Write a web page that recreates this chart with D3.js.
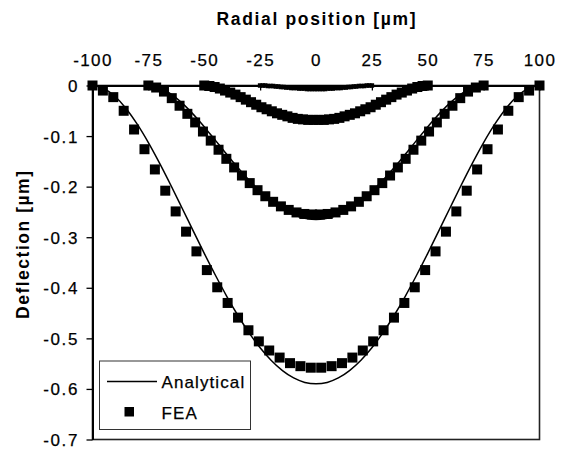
<!DOCTYPE html>
<html>
<head>
<meta charset="utf-8">
<script src="https://cdn.jsdelivr.net/npm/d3@7"></script>
<style>
  html, body { margin: 0; padding: 0; background: #fff; }
  svg { display: block; font-family: "Liberation Sans", Arial, sans-serif; }
</style>
</head>
<body>
<svg id="chart" width="564" height="450"></svg>
<script>
// ---------------- data ----------------
const radii = [100, 75, 50, 25];                 // plate radius of each case [µm]
const xTicks = [-100, -75, -50, -25, 0, 25, 50, 75, 100];
const xTickLabels = ["-100", "-75", "-50", "-25", "0", "25", "50", "75", "100"];
const yTicks = [0, -0.1, -0.2, -0.3, -0.4, -0.5, -0.6, -0.7];
const yTickLabels = ["0", "-0.1", "-0.2", "-0.3", "-0.4", "-0.5", "-0.6", "-0.7"];

// Analytical curves: 41 evenly spaced points across each diameter
const analytical100 = [0, -0.0056, -0.0213, -0.0454, -0.0765, -0.1129, -0.1535, -0.1968, -0.2417, -0.2870, -0.3319, -0.3752, -0.4163, -0.4543, -0.4886, -0.5186, -0.5437, -0.5637, -0.5783, -0.5871, -0.5900,
  -0.5871, -0.5783, -0.5637, -0.5437, -0.5186, -0.4886, -0.4543, -0.4163, -0.3752, -0.3319, -0.2870, -0.2417, -0.1968, -0.1535, -0.1129, -0.0765, -0.0454, -0.0213, -0.0056, 0];
const analytical75 = [0, -0.0025, -0.0096, -0.0204, -0.0343, -0.0507, -0.0689, -0.0884, -0.1085, -0.1289, -0.1491, -0.1685, -0.1870, -0.2041, -0.2194, -0.2329, -0.2442, -0.2532, -0.2597, -0.2637, -0.2650,
  -0.2637, -0.2597, -0.2532, -0.2442, -0.2329, -0.2194, -0.2041, -0.1870, -0.1685, -0.1491, -0.1289, -0.1085, -0.0884, -0.0689, -0.0507, -0.0343, -0.0204, -0.0096, -0.0025, 0];
const analytical50 = [0, -0.0007, -0.0025, -0.0054, -0.0091, -0.0134, -0.0182, -0.0233, -0.0287, -0.0341, -0.0394, -0.0445, -0.0494, -0.0539, -0.0580, -0.0615, -0.0645, -0.0669, -0.0686, -0.0697, -0.0700,
  -0.0697, -0.0686, -0.0669, -0.0645, -0.0615, -0.0580, -0.0539, -0.0494, -0.0445, -0.0394, -0.0341, -0.0287, -0.0233, -0.0182, -0.0134, -0.0091, -0.0054, -0.0025, -0.0007, 0];
const analytical25 = [0, -0.0001, -0.0003, -0.0005, -0.0009, -0.0013, -0.0018, -0.0023, -0.0029, -0.0034, -0.0039, -0.0045, -0.0049, -0.0054, -0.0058, -0.0062, -0.0065, -0.0067, -0.0069, -0.0070, -0.0070,
  -0.0070, -0.0069, -0.0067, -0.0065, -0.0062, -0.0058, -0.0054, -0.0049, -0.0045, -0.0039, -0.0034, -0.0029, -0.0023, -0.0018, -0.0013, -0.0009, -0.0005, -0.0003, -0.0001, 0];

// FEA nodes: 44 evenly spaced nodes across each diameter
const fea100 = [0, -0.010, -0.023, -0.050, -0.087, -0.126, -0.166, -0.208, -0.249, -0.289, -0.328, -0.365, -0.399, -0.430, -0.459, -0.484, -0.506, -0.524, -0.538, -0.549, -0.555, -0.558,
  -0.558, -0.555, -0.549, -0.538, -0.524, -0.506, -0.484, -0.459, -0.430, -0.399, -0.365, -0.328, -0.289, -0.249, -0.208, -0.166, -0.126, -0.087, -0.050, -0.023, -0.010, 0];
const fea75 = [0, -0.004, -0.012, -0.025, -0.040, -0.056, -0.073, -0.091, -0.109, -0.127, -0.145, -0.162, -0.178, -0.193, -0.207, -0.219, -0.230, -0.239, -0.246, -0.251, -0.254, -0.255,
  -0.255, -0.254, -0.251, -0.246, -0.239, -0.230, -0.219, -0.207, -0.193, -0.178, -0.162, -0.145, -0.127, -0.109, -0.091, -0.073, -0.056, -0.040, -0.025, -0.012, -0.004, 0];
const fea50 = [0, -0.001, -0.003, -0.006, -0.010, -0.014, -0.018, -0.023, -0.028, -0.033, -0.038, -0.043, -0.047, -0.051, -0.055, -0.058, -0.061, -0.064, -0.066, -0.067, -0.068, -0.068,
  -0.068, -0.068, -0.067, -0.066, -0.064, -0.061, -0.058, -0.055, -0.051, -0.047, -0.043, -0.038, -0.033, -0.028, -0.023, -0.018, -0.014, -0.010, -0.006, -0.003, -0.001, 0];
const fea25 = [0, 0, 0, -0.001, -0.001, -0.001, -0.002, -0.002, -0.003, -0.003, -0.004, -0.004, -0.005, -0.005, -0.005, -0.006, -0.006, -0.006, -0.007, -0.007, -0.007, -0.007,
  -0.007, -0.007, -0.007, -0.007, -0.006, -0.006, -0.006, -0.005, -0.005, -0.005, -0.004, -0.004, -0.003, -0.003, -0.002, -0.002, -0.001, -0.001, -0.001, 0, 0, 0];

const analyticalSeries = [analytical100, analytical75, analytical50, analytical25];
const feaSeries = [fea100, fea75, fea50, fea25];
const feaMarkerSize = [10, 10, 10, 4.5];

const xTitle = "Radial position [µm]";
const yTitle = "Deflection [µm]";
const legendLabels = ["Analytical", "FEA"];

// ---------------- drawing ----------------
const svg = d3.select("#chart");
const x = d3.scaleLinear().domain([-100, 100]).range([92.5, 539.5]);
const y = d3.scaleLinear().domain([0, -0.7]).range([85.5, 439.5]);

// plot border (right & bottom visible)
svg.append("rect")
  .attr("x", x(-100)).attr("y", y(0))
  .attr("width", x(100) - x(-100)).attr("height", y(-0.7) - y(0))
  .attr("fill", "none").attr("stroke", "#222").attr("stroke-width", 1.6);

// analytical lines
const line = d3.line().x(d => x(d[0])).y(d => y(d[1])).curve(d3.curveMonotoneX);
analyticalSeries.forEach((vals, s) => {
  const a = radii[s];
  const n = vals.length - 1;
  const pts = vals.map((v, k) => [-a + 2 * a * k / n, v]);
  svg.append("path").datum(pts)
    .attr("d", line).attr("fill", "none")
    .attr("stroke", "#000").attr("stroke-width", 1.5);
});

// FEA markers
feaSeries.forEach((vals, s) => {
  const a = radii[s];
  const n = vals.length - 1;
  const sz = feaMarkerSize[s];
  svg.append("g").selectAll("rect")
    .data(vals.map((v, i) => [-a + 2 * a * i / n, v]))
    .join("rect")
    .attr("x", d => x(d[0]) - sz / 2)
    .attr("y", d => y(d[1]) - sz / 2)
    .attr("width", sz).attr("height", sz)
    .attr("fill", "#000");
});

// top x axis (at deflection 0)
const xAxis = d3.axisTop(x).tickValues(xTicks).tickSizeInner(-5).tickSizeOuter(0).tickPadding(19.5)
  .tickFormat((d, i) => xTickLabels[i]);
const gx = svg.append("g").attr("transform", `translate(0,${y(0)})`).call(xAxis);
gx.select(".domain").attr("stroke", "#000").attr("stroke-width", 2);
gx.selectAll(".tick line").attr("stroke", "#000").attr("stroke-width", 1.3);
gx.selectAll(".tick text")
  .attr("font-size", 17).attr("fill", "#000")
  .attr("stroke", "#000").attr("stroke-width", 0.25)
  .style("letter-spacing", "1.4px");

// left y axis
const yAxis = d3.axisLeft(y).tickValues(yTicks).tickSizeInner(6).tickSizeOuter(0).tickPadding(7.5)
  .tickFormat((d, i) => yTickLabels[i]);
const gy = svg.append("g").attr("transform", `translate(${x(-100)},0)`).call(yAxis);
gy.select(".domain").attr("stroke", "#000").attr("stroke-width", 2);
gy.selectAll(".tick line").attr("stroke", "#000").attr("stroke-width", 1.3);
gy.selectAll(".tick text")
  .attr("font-size", 17).attr("fill", "#000").attr("dy", "0.35em")
  .attr("stroke", "#000").attr("stroke-width", 0.25)
  .style("letter-spacing", "1.6px");

// axis titles
svg.append("text")
  .attr("x", 316).attr("y", 24.5)
  .attr("text-anchor", "middle")
  .attr("font-size", 17.5).attr("font-weight", "bold")
  .attr("textLength", 199).attr("lengthAdjust", "spacing")
  .text(xTitle);

svg.append("text")
  .attr("transform", "translate(29,245) rotate(-90)")
  .attr("text-anchor", "middle")
  .attr("font-size", 17.5).attr("font-weight", "bold")
  .attr("textLength", 148).attr("lengthAdjust", "spacing")
  .text(yTitle);

// legend
const lg = svg.append("g");
lg.append("rect")
  .attr("x", 99.5).attr("y", 361).attr("width", 151).attr("height", 68.5)
  .attr("fill", "#fff").attr("stroke", "#333").attr("stroke-width", 1);
lg.append("line")
  .attr("x1", 107).attr("x2", 157).attr("y1", 381.5).attr("y2", 381.5)
  .attr("stroke", "#000").attr("stroke-width", 1.5);
lg.append("rect")
  .attr("x", 124.5).attr("y", 407).attr("width", 9.5).attr("height", 9.5).attr("fill", "#000");
lg.selectAll("text.lab").data(legendLabels).join("text")
  .attr("class", "lab")
  .attr("x", 161.5).attr("y", (d, i) => i === 0 ? 388 : 419)
  .attr("font-size", 17).style("letter-spacing", "1.1px")
  .attr("stroke", "#000").attr("stroke-width", 0.25)
  .text(d => d);
</script>
</body>
</html>
